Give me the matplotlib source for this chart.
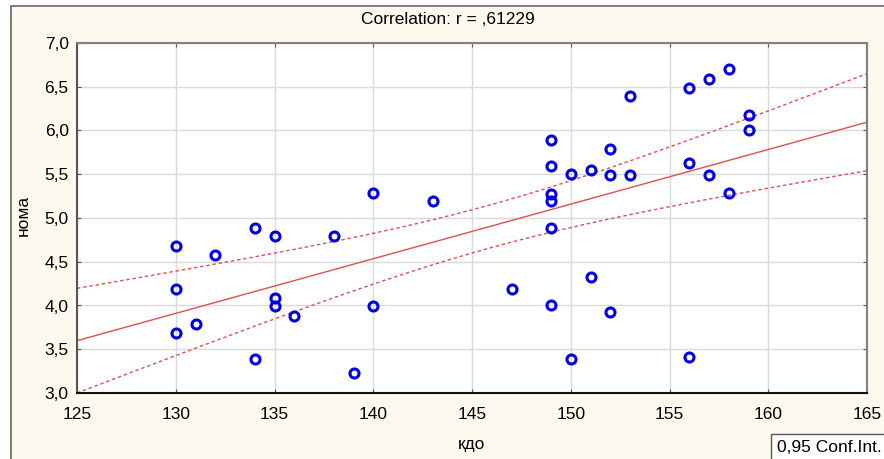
import numpy as np
import matplotlib.pyplot as plt
from matplotlib.patches import Rectangle

# кдо / нома observations
kdo = [130, 130, 130, 131, 132, 134, 134, 135, 135, 135, 136, 138, 139, 140, 140,
       143, 147, 149, 149, 149, 149, 149, 149, 150, 150, 151, 151, 152, 152, 152,
       153, 153, 156, 156, 156, 157, 157, 158, 158, 159, 159]
noma = [4.68, 4.19, 3.68, 3.79, 4.58, 4.89, 3.39, 4.79, 4.08, 3.99, 3.88, 4.79, 3.23, 5.29, 3.99,
        5.19, 4.19, 5.89, 5.59, 5.27, 5.19, 4.89, 4.00, 5.50, 3.39, 5.55, 4.33, 5.79, 5.49, 3.93,
        6.39, 5.49, 6.48, 5.63, 3.41, 6.59, 5.49, 6.70, 5.29, 6.18, 6.00]

x_ticks = [125, 130, 135, 140, 145, 150, 155, 160, 165]
y_ticks = [3.0, 3.5, 4.0, 4.5, 5.0, 5.5, 6.0, 6.5, 7.0]
r_label = ",61229"
t_975 = 2.0227  # Student t, 39 df

x = np.array(kdo, dtype=float)
y = np.array(noma, dtype=float)
n = len(x)
slope, intercept = np.polyfit(x, y, 1)
resid = y - (slope * x + intercept)
s = np.sqrt(np.sum(resid ** 2) / (n - 2))
sxx = np.sum((x - x.mean()) ** 2)

xs = np.linspace(125, 165, 200)
fit = slope * xs + intercept
half = t_975 * s * np.sqrt(1.0 / n + (xs - x.mean()) ** 2 / sxx)

plt.rcParams['font.family'] = ['Liberation Sans', 'DejaVu Sans']

bg = '#FDF9EE'
fs = 12.5
fig = plt.figure(figsize=(8.84, 4.59), dpi=100, facecolor='white')
fig.patches.append(Rectangle((10.5 / 884, -0.05), 1.1, 1.05 - 6 / 459,
                             transform=fig.transFigure, facecolor=bg,
                             edgecolor='#666666', linewidth=1.2, zorder=-5))

ax = fig.add_axes([77 / 884, 1 - 393 / 459, 790 / 884, 350 / 459])
ax.set_zorder(2)
ax.set_facecolor('white')

ax.plot(xs, fit, color='#E05050', lw=1.0, zorder=2)
ax.plot(xs, fit + half, color='#E05050', lw=1.0, ls=(0, (2.5, 2)), zorder=2)
ax.plot(xs, fit - half, color='#E05050', lw=1.0, ls=(0, (2.5, 2)), zorder=2)
ax.plot(x, y, 'o', ms=6.5, mfc='none', mec='#0000DD', mew=2.2, zorder=3)

ax.set_xlim(125, 165)
ax.set_ylim(3.0, 7.0)
ax.set_xticks(x_ticks)
ax.set_yticks(y_ticks)
ax.set_xticklabels([str(v) for v in x_ticks], fontsize=fs)
ax.set_yticklabels([f"{v:.1f}".replace('.', ',') for v in y_ticks], fontsize=fs)
ax.tick_params(direction='in', length=3, color='#555555', top=True, right=True)
ax.tick_params(axis='x', pad=10)
ax.tick_params(axis='y', pad=6)
ax.grid(True, color='#DADADA', lw=1.0)
ax.set_axisbelow(True)

for side in ['top', 'right']:
    ax.spines[side].set_color('#808080')
    ax.spines[side].set_linewidth(1.5)
ax.spines['left'].set_color('#555555')
ax.spines['left'].set_linewidth(1.5)
ax.spines['bottom'].set_color('#111111')
ax.spines['bottom'].set_linewidth(1.5)

fig.text(448 / 884, 1 - 20 / 459, f"Correlation: r = {r_label}", ha='center', va='center', fontsize=fs)
fig.text(472 / 884, 1 - 444 / 459, "кдо", ha='center', va='center', fontsize=fs)
fig.text(23 / 884, 1 - 215 / 459, "нома", ha='center', va='center', rotation=90, fontsize=fs)

# legend box in the lower right corner
fig.patches.append(Rectangle((771 / 884, -0.05), 0.2, 0.05 + (459 - 434) / 459,
                             transform=fig.transFigure, facecolor='white',
                             edgecolor='#555555', linewidth=1.0, zorder=1))
fig.text(777 / 884, 1 - 447 / 459, "0,95 Conf.Int.", ha='left', va='center', fontsize=fs)

fig.savefig('out.png', dpi=100, facecolor=fig.get_facecolor())
